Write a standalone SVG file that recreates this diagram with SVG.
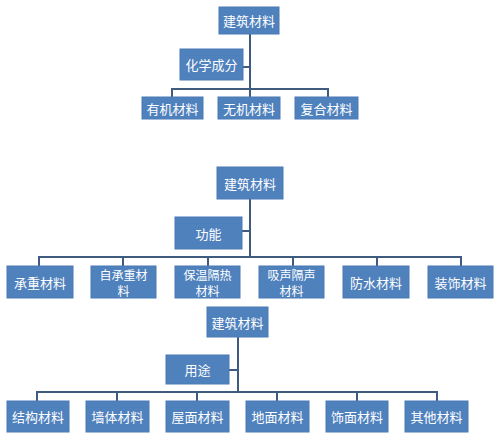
<svg xmlns="http://www.w3.org/2000/svg" width="500" height="437" viewBox="0 0 500 437">
<style>
.b{fill:#4F81BD;stroke:#4A7AB5;stroke-width:1}
.t{fill:#ffffff;font-family:"Noto Sans CJK SC",sans-serif;font-size:13px;text-anchor:middle;dominant-baseline:central}
.s{font-size:12px}
.l{stroke:#3F5C80;stroke-width:2;fill:none}
</style>
<rect width="500" height="437" fill="#ffffff"/>
<g id="connectors">
<path class="l" d="M250 34V89M243 67H250M172 97V89H328V97M250 89V97"/>
<path class="l" d="M250 199V257M242 231H250M39 266V257H461V266M123 257V266M208 257V266M293 257V266M377 257V266"/>
<path class="l" d="M238 337V392M229 370H238M37 401V392H437V401M117 392V401M197 392V401M277 392V401M357 392V401"/>
</g>
<g id="n1"><rect class="b" x="219" y="7" width="60" height="27"/><text class="t" x="249" y="20.5" font-size="14.5">建筑材料</text></g>
<g id="n2"><rect class="b" x="180" y="49" width="63" height="31"/><text class="t" x="211.5" y="64.5" font-size="15">化学成分</text></g>
<g id="n3"><rect class="b" x="142" y="97" width="61" height="22"/><text class="t" x="172.5" y="108" font-size="15">有机材料</text></g>
<g id="n4"><rect class="b" x="218" y="97" width="62" height="22"/><text class="t" x="249" y="108" font-size="15">无机材料</text></g>
<g id="n5"><rect class="b" x="295" y="97" width="63" height="22"/><text class="t" x="326.5" y="108" font-size="15">复合材料</text></g>
<g id="n6"><rect class="b" x="217" y="167" width="66" height="32"/><text class="t" x="250" y="183">建筑材料</text></g>
<g id="n7"><rect class="b" x="175" y="217" width="67" height="32"/><text class="t" x="208.5" y="233">功能</text></g>
<g id="n8"><rect class="b" x="7" y="266" width="66" height="32"/><text class="t" x="40" y="282">承重材料</text></g>
<g id="n9"><rect class="b" x="91" y="266" width="65" height="32"/><text class="t s" x="123.5" y="274"><tspan x="123.5" y="274">自承重材</tspan><tspan x="123.5" y="290">料</tspan></text></g>
<g id="n10"><rect class="b" x="175" y="266" width="65" height="32"/><text class="t s" x="207.5" y="274"><tspan x="207.5" y="274">保温隔热</tspan><tspan x="207.5" y="290">材料</tspan></text></g>
<g id="n11"><rect class="b" x="259" y="266" width="65" height="32"/><text class="t s" x="291.5" y="274"><tspan x="291.5" y="274">吸声隔声</tspan><tspan x="291.5" y="290">材料</tspan></text></g>
<g id="n12"><rect class="b" x="343" y="266" width="66" height="32"/><text class="t" x="376" y="282">防水材料</text></g>
<g id="n13"><rect class="b" x="428" y="266" width="65" height="32"/><text class="t" x="460.5" y="282">装饰材料</text></g>
<g id="n14"><rect class="b" x="207" y="307" width="61" height="30"/><text class="t" x="237.5" y="322" font-size="14.5">建筑材料</text></g>
<g id="n15"><rect class="b" x="166" y="355" width="63" height="29"/><text class="t" x="197.5" y="369.5" font-size="14.5">用途</text></g>
<g id="n16"><rect class="b" x="7" y="401" width="62" height="31"/><text class="t" x="38" y="416.5" font-size="14.5">结构材料</text></g>
<g id="n17"><rect class="b" x="86" y="401" width="63" height="31"/><text class="t" x="117.5" y="416.5" font-size="14.5">墙体材料</text></g>
<g id="n18"><rect class="b" x="166" y="401" width="63" height="31"/><text class="t" x="197.5" y="416.5" font-size="14.5">屋面材料</text></g>
<g id="n19"><rect class="b" x="246" y="401" width="63" height="31"/><text class="t" x="277.5" y="416.5" font-size="14.5">地面材料</text></g>
<g id="n20"><rect class="b" x="326" y="401" width="62" height="31"/><text class="t" x="357" y="416.5" font-size="14.5">饰面材料</text></g>
<g id="n21"><rect class="b" x="405" y="401" width="63" height="31"/><text class="t" x="436.5" y="416.5" font-size="14.5">其他材料</text></g>
</svg>
